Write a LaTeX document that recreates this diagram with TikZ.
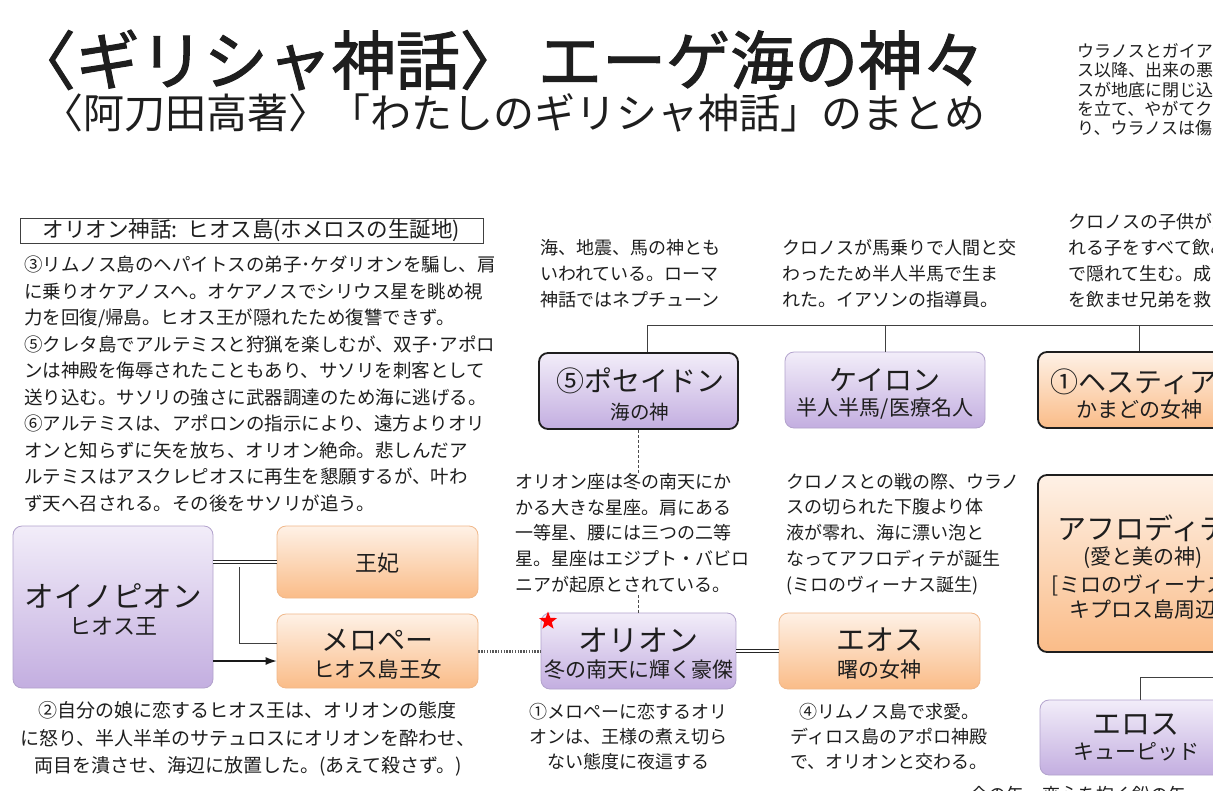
\documentclass[tikz,border=0pt]{standalone}
\usepackage{fontspec}
\newfontfamily\jp{Noto Sans CJK JP}
\newfontfamily\jptitle{Noto Sans CJK JP}[FakeBold=1.6]
\usetikzlibrary{shapes.geometric,arrows.meta,calc}
\definecolor{ptop}{HTML}{F2EDF9}
\definecolor{pbot}{HTML}{C3AEE0}
\definecolor{pedge}{HTML}{B2A2CC}
\definecolor{otop}{HTML}{FEF1E6}
\definecolor{obot}{HTML}{FABC88}
\definecolor{oedge}{HTML}{F0B88A}
\definecolor{ink}{HTML}{1E1E1E}
\newcommand\fsz[2]{\fontsize{#1}{#2}\selectfont}
\begin{document}
\begin{tikzpicture}[x=1pt,y=-1pt,
  txt/.style={font=\jp, text=ink, inner sep=0pt, align=left},
  ctxt/.style={font=\jp, text=ink, inner sep=0pt, align=center},
  pbox/.style={rounded corners=9pt, draw=pedge, line width=0.8pt, top color=ptop, bottom color=pbot, inner sep=0pt},
  obox/.style={rounded corners=9pt, draw=oedge, line width=0.8pt, top color=otop, bottom color=obot, inner sep=0pt},
  darkedge/.style={draw=ink, line width=1.8pt},
  conn/.style={draw=black!75, line width=0.9pt},
  dconn/.style={draw=black!70, line width=0.7pt, dashed, dash pattern=on 3pt off 2pt},
  dotconn/.style={draw=black!65, line width=3pt, dash pattern=on 1.4pt off 1.4pt},
  dbl/.style={draw=black!85, double=white, double distance=1.6pt, line width=0.9pt},
]
\useasboundingbox (0,0) rectangle (1213,790);
\clip (0,0) rectangle (1213,790);
\fill[white] (0,0) rectangle (1213,790);

% titles
\node[ctxt, font=\jptitle\fsz{64}{70}] (title) at (499,60) {〈ギリシャ神話〉 エーゲ海の神々};
\node[ctxt, font=\jp\fsz{41}{46}] (subtitle) at (514,113) {〈阿刀田高著〉「わたしのギリシャ神話」のまとめ};
\node[txt, font=\jp\fsz{17}{19.2}, anchor=north west] (toptext) at (1077,43.5) {ウラノスとガイア\\ス以降、出来の悪\\スが地底に閉じ込\\を立て、やがてク\\り、ウラノスは傷};

% left story
\node[ctxt, draw=black!75, line width=0.9pt, minimum width=463pt, minimum height=25pt, font=\jp\fsz{21.5}{24}] (header) at (251.5,230.5) {オリオン神話:\ \ ヒオス島(ホメロスの生誕地)};
\node[txt, font=\jp\fsz{18.5}{26.5}, anchor=north west] (story) at (24,256) {③リムノス島のヘパイトスの弟子･ケダリオンを騙し、肩\\に乗りオケアノスへ。オケアノスでシリウス星を眺め視\\力を回復/帰島。ヒオス王が隠れたため復讐できず。\\⑤クレタ島でアルテミスと狩猟を楽しむが、双子･アポロ\\ンは神殿を侮辱されたこともあり、サソリを刺客として\\送り込む。サソリの強さに武器調達のため海に逃げる。\\⑥アルテミスは、アポロンの指示により、遠方よりオリ\\オンと知らずに矢を放ち、オリオン絶命。悲しんだア\\ルテミスはアスクレピオスに再生を懇願するが、叶わ\\ず天へ召される。その後をサソリが追う。};

% Oinopion family
\node[pbox, minimum width=200pt, minimum height=162pt] (oino) at (113,607) {};
\node[ctxt, font=\jp\fsz{29.5}{32}] (oinoT) at (113,596) {オイノピオン};
\node[ctxt, font=\jp\fsz{22}{24}] (oinoS) at (113,626) {ヒオス王};
\node[obox, minimum width=201pt, minimum height=72pt] (ouhi) at (377.5,562) {};
\node[ctxt, font=\jp\fsz{22}{24}] (ouhiT) at (377.5,563) {王妃};
\node[obox, minimum width=201pt, minimum height=74pt] (merope) at (377.5,651) {};
\node[ctxt, font=\jp\fsz{28}{30}] (meropeT) at (377.5,640) {メロペー};
\node[ctxt, font=\jp\fsz{21.5}{24}] (meropeS) at (377.5,669) {ヒオス島王女};

\draw[dbl] (oino.east |- ouhi.west) -- (ouhi.west);
\coordinate (br) at (239,567);
\coordinate (mA) at ([yshift=-10pt]merope.west);
\coordinate (mB) at ([yshift=8pt]merope.west);
\draw[conn] (br) |- (mB);
\draw[draw=black!90, line width=1.1pt, -{Latex[length=11pt,width=8pt]}] (oino.east |- mA) -- (mA);

\node[ctxt, font=\jp\fsz{19}{27.5}, anchor=north] (oinoDesc) at (248,701.5) {②自分の娘に恋するヒオス王は、オリオンの態度\\に怒り、半人半羊のサテュロスにオリオンを酔わせ、\\両目を潰させ、海辺に放置した。(あえて殺さず。)};

% top descriptions
\node[txt, font=\jp\fsz{18}{26}, anchor=north west] (posDesc) at (540,239) {海、地震、馬の神とも\\いわれている。ローマ\\神話ではネプチューン};
\node[txt, font=\jp\fsz{18}{26}, anchor=north west] (cheDesc) at (782,239) {クロノスが馬乗りで人間と交\\わったため半人半馬で生ま\\れた。イアソンの指導員。};
\node[txt, font=\jp\fsz{18}{26}, anchor=north west] (hesDesc) at (1068,213) {クロノスの子供が王\\れる子をすべて飲み\\で隠れて生む。成\\を飲ませ兄弟を救};

% gods row
\node[pbox, darkedge, minimum width=199pt, minimum height=76pt] (poseidon) at (638.5,391) {};
\node[ctxt, font=\jp\fsz{28}{30}] (posT) at (640,381) {⑤ポセイドン};
\node[ctxt, font=\jp\fsz{19.5}{22}] (posS) at (640,412) {海の神};
\node[pbox, minimum width=200pt, minimum height=76pt] (cheiron) at (885,390) {};
\node[ctxt, font=\jp\fsz{28}{31}] (cheT) at (885,380) {ケイロン};
\node[ctxt, font=\jp\fsz{21}{24}] (cheS) at (885,409) {半人半馬/医療名人};
\node[obox, darkedge, minimum width=202pt, minimum height=76pt] (hestia) at (1139,390) {};
\node[ctxt, font=\jp\fsz{28}{31}] (hesT) at (1134,382) {①ヘスティア};
\node[ctxt, font=\jp\fsz{21}{24}] (hesS) at (1139,410) {かまどの女神};

\coordinate (hR) at (1260,325);
\draw[conn] ([xshift=9pt]poseidon.north) |- (hR);
\draw[conn] (cheiron.north) -- (cheiron.north |- hR);
\draw[conn] (hestia.north) -- (hestia.north |- hR);

% Orion row
\node[pbox, minimum width=195pt, minimum height=76pt] (orion) at (638.5,651) {};
\node[ctxt, font=\jp\fsz{30}{32}] (oriT) at (638.5,640) {オリオン};
\node[ctxt, font=\jp\fsz{21}{24}] (oriS) at (638.5,670) {冬の南天に輝く豪傑};
\node[obox, minimum width=201pt, minimum height=76pt] (eos) at (879.5,651) {};
\node[ctxt, font=\jp\fsz{29}{31}] (eosT) at (879.5,640) {エオス};
\node[ctxt, font=\jp\fsz{21}{24}] (eosS) at (879.5,670) {曙の女神};
\node[star, star points=5, star point ratio=2.4, fill=red, inner sep=0pt, minimum size=19pt] (star) at (548,621) {};

\draw[dconn] (poseidon.south) -- (orion.north);
\draw[dotconn] (merope.east) -- (orion.west);
\draw[dbl] (orion.east) -- (eos.west);

\node[txt, fill=white, font=\jp\fsz{18}{25.7}, anchor=north west] (oriDesc) at (515,473) {オリオン座は冬の南天にか\\かる大きな星座。肩にある\\一等星、腰には三つの二等\\星。星座はエジプト・バビロ\\ニアが起原とされている。};
\node[txt, font=\jp\fsz{18}{25.7}, anchor=north west] (eosDesc) at (786,473) {クロノスとの戦の際、ウラノ\\スの切られた下腹より体\\液が零れ、海に漂い泡と\\なってアフロディテが誕生\\(ミロのヴィーナス誕生)};
\node[ctxt, font=\jp\fsz{18}{25}, anchor=north] (oriBot) at (628,703) {①メロペーに恋するオリ\\オンは、王様の煮え切ら\\ない態度に夜這する};
\node[ctxt, font=\jp\fsz{18}{25}, anchor=north] (eosBot) at (889,703) {④リムノス島で求愛。\\ディロス島のアポロ神殿\\で、オリオンと交わる。};

% Aphrodite / Eros
\node[obox, darkedge, minimum width=210pt, minimum height=177pt] (aphro) at (1143,563.5) {};
\node[ctxt, font=\jp\fsz{29}{31}] (aphT) at (1143,528) {アフロディテ};
\node[ctxt, font=\jp\fsz{21}{24}] (aphS1) at (1143,558) {(愛と美の神)};
\node[ctxt, font=\jp\fsz{21}{24}] (aphS2) at (1143,585) {[ミロのヴィーナス]};
\node[ctxt, font=\jp\fsz{21}{24}] (aphS3) at (1143,610) {キプロス島周辺};
\node[pbox, minimum width=192pt, minimum height=75pt] (eros) at (1136,737.5) {};
\node[ctxt, font=\jp\fsz{29}{31}] (erosT) at (1136,725) {エロス};
\node[ctxt, font=\jp\fsz{21}{24}] (erosS) at (1136,752) {キューピッド};
\coordinate (aR) at (1260,677);
\draw[conn] ([xshift=4pt]eros.north) |- (aR);
\node[txt, font=\jp\fsz{18}{22}, anchor=north west] (erosDesc) at (970,786) {金の矢・恋心を抱く鉛の矢};
\end{tikzpicture}
\end{document}
